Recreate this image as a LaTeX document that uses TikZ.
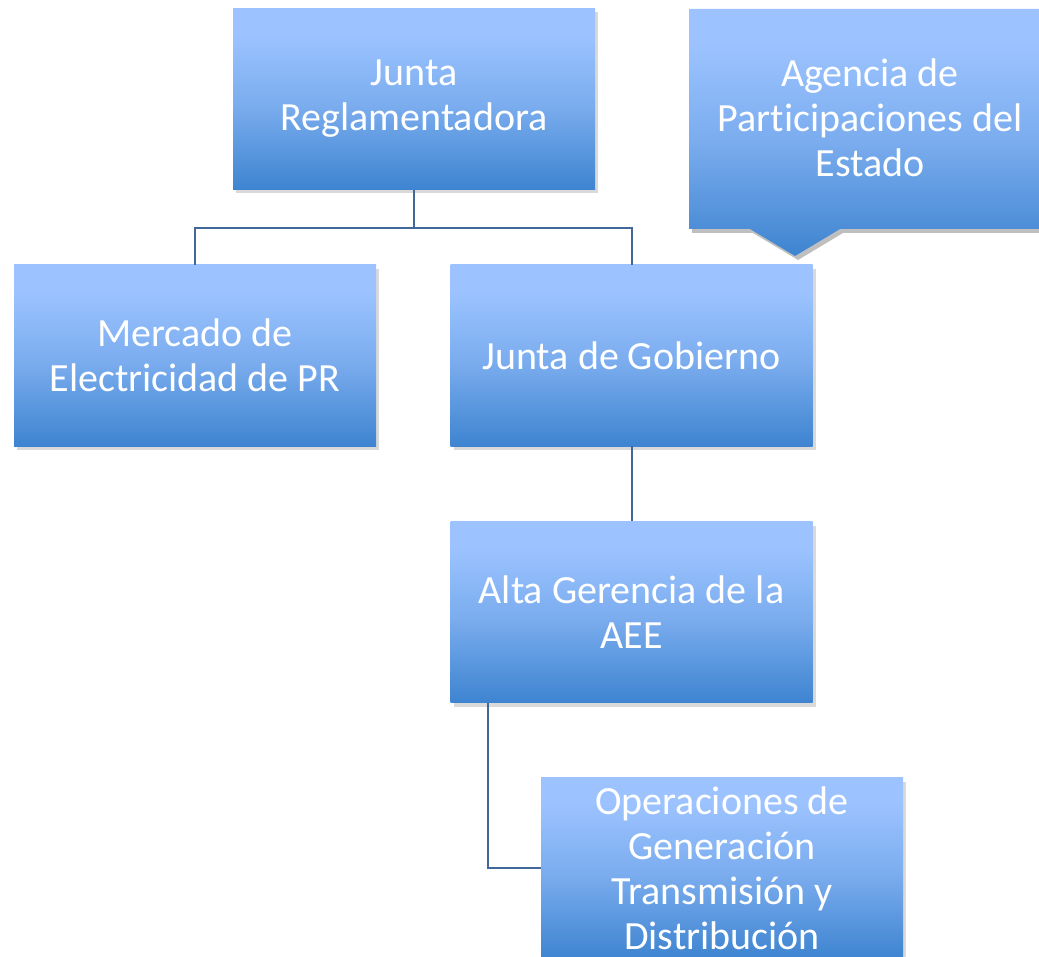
\documentclass[tikz,border=0pt]{standalone}
\usepackage{fontspec}
\setmainfont{Carlito}[Ligatures={NoCommon}]
\usetikzlibrary{shadows}
\definecolor{gtop}{RGB}{156,195,255}
\definecolor{gmid}{RGB}{122,172,238}
\definecolor{gbot}{RGB}{62,132,208}
\definecolor{conn}{RGB}{66,104,154}
\pgfdeclareverticalshading{boxgrad}{100bp}{color(0bp)=(gbot); color(25bp)=(gbot); color(48bp)=(gmid); color(68bp)=(gtop); color(100bp)=(gtop)}
\tikzset{
  orgbox/.style={rectangle, shading=boxgrad, inner sep=0pt,
    minimum width=362pt, minimum height=181pt, align=center, text=white,
    font=\fontsize{40}{45}\selectfont,
    drop shadow={opacity=0.3, shadow xshift=3pt, shadow yshift=-4pt}},
  conline/.style={draw=conn, line width=2pt}
}
\begin{document}
\begin{tikzpicture}[x=1pt,y=-1pt]
\useasboundingbox (0,0) rectangle (1039,957);
% callout shape
\fill[black, opacity=0.25] (692,13) -- (1045,13) -- (1045,233) -- (843,233) -- (798,260) -- (753,233) -- (692,233) -- cycle;
\shade[shading=boxgrad] (689,9) -- (1045,9) -- (1045,229) -- (840,229) -- (795,256) -- (750,229) -- (689,229) -- cycle;
\node[text=white, align=center, font=\fontsize{40}{45}\selectfont] (agencia) at (870,118) {Agencia de\\Participaciones del\\Estado};
% boxes
\node[orgbox] (reg) at (414,99) {Junta\\Reglamentadora};
\node[orgbox] (merc) at (195,355.5) {Mercado de\\Electricidad de PR};
\node[orgbox] (gob) at (631.5,355.5) {Junta de Gobierno};
\node[orgbox] (alta) at (631.5,612) {Alta Gerencia de la\\AEE};
\node[orgbox] (oper) at (722,868) {Operaciones de\\Generación\\Transmisión y\\Distribución};
% connectors
\coordinate (split) at (414,228);
\draw[conline] (reg.south) -- (split);
\draw[conline] (merc.north) |- (split) -| (gob.north);
\draw[conline] (gob.south) -- (alta.north);
\draw[conline] (alta.south -| 488,0) |- (oper.west);
\end{tikzpicture}
\end{document}
